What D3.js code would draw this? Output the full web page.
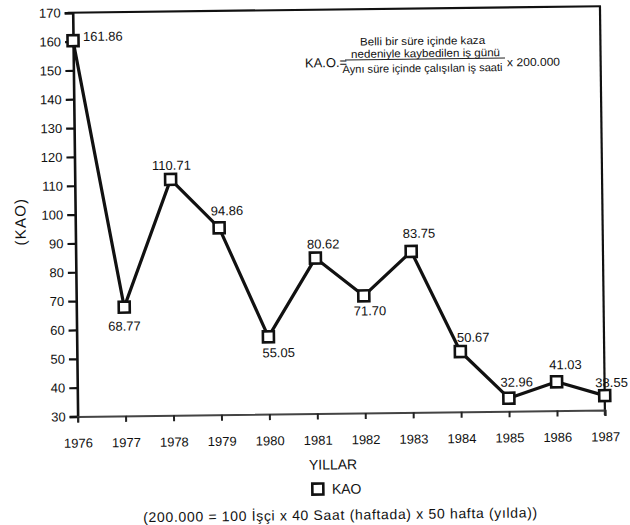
<!DOCTYPE html>
<html>
<head>
<meta charset="utf-8">
<script src="https://cdn.jsdelivr.net/npm/d3@7"></script>
<style>
  html, body { margin: 0; padding: 0; background: #fff; }
  svg { display: block; }
  text { font-family: "Liberation Sans", Arial, Helvetica, sans-serif; fill: #111; }
</style>
</head>
<body>
<svg id="chart" width="630" height="525"></svg>
<script>
// ---- data ----
const years = [1976, 1977, 1978, 1979, 1980, 1981, 1982, 1983, 1984, 1985, 1986, 1987];
const kaoPlotted = [160.3, 67.7, 111.8, 94.8, 56.8, 83.9, 70.6, 85.8, 50.9, 34.5, 40.0, 35.0];
const kaoLabels = ["161.86", "68.77", "110.71", "94.86", "55.05", "80.62", "71.70", "83.75", "50.67", "32.96", "41.03", "38.55"];
const yTicks = [30, 40, 50, 60, 70, 80, 90, 100, 110, 120, 130, 140, 150, 160, 170];
const xTickLabels = ["1976", "1977", "1978", "1979", "1980", "1981", "1982", "1983", "1984", "1985", "1986", "1987"];
const seriesName = "KAO";
const yTitle = "(KAO)";
const xTitle = "YILLAR";
const formulaNumerator = ["Belli bir süre içinde kaza", "nedeniyle kaybedilen iş günü"];
const formulaDenominator = "Aynı süre içinde çalışılan iş saati";
const formulaLeft = "KA.O.=";
const formulaRight = "x 200.000";
const footnote = "(200.000 = 100 İşçi x 40 Saat (haftada) x 50 hafta (yılda))";

// label placement (dx, dy, anchor) relative to each point
const labelPlacement = [
  [10, -4, "start"], [0, 19, "middle"], [1, -14, "middle"], [8, -17, "middle"],
  [10, 16, "middle"], [8, -14, "middle"], [6, 15, "middle"], [8, -18, "middle"],
  [13, -14, "middle"], [8, -16, "middle"], [9, -17, "middle"], [7, -13, "middle"]
];

// ---- layout ----
const pLeft = 72.7, pTop = 12.7, pRight = 600, pBottom = 416.5;
const svg = d3.select("#chart");
const g = svg.append("g").attr("transform", "rotate(-0.7," + pLeft + "," + pTop + ")");

const x = d3.scaleLinear().domain([1976, 1987]).range([pLeft, pRight]);
const y = d3.scaleLinear().domain([30, 170]).range([pBottom, pTop]);

// frame: top and right borders
g.append("line").attr("x1", pLeft - 5).attr("x2", pRight + 1).attr("y1", pTop).attr("y2", pTop)
  .attr("stroke", "#111").attr("stroke-width", 2.2);
g.append("line").attr("x1", pRight).attr("x2", pRight).attr("y1", pTop).attr("y2", pBottom + 5)
  .attr("stroke", "#111").attr("stroke-width", 2.2);

// y axis
const yAxis = d3.axisLeft(y).tickValues(yTicks).tickSize(8).tickPadding(4).tickFormat(d3.format("d"));
const ya = g.append("g").attr("transform", "translate(" + pLeft + ",0)").call(yAxis);
ya.select(".domain").attr("stroke", "#111").attr("stroke-width", 2.6);
ya.selectAll(".tick line").attr("stroke", "#111").attr("stroke-width", 2.2);
ya.selectAll(".tick text").attr("font-size", 13).attr("fill", "#111");

// x axis
const xAxis = d3.axisBottom(x).tickValues(years).tickSize(6).tickPadding(16)
  .tickFormat((d, i) => xTickLabels[i]);
const xa = g.append("g").attr("transform", "translate(0," + pBottom + ")").call(xAxis);
xa.select(".domain").attr("stroke", "#444").attr("stroke-width", 2);
xa.selectAll(".tick line").attr("stroke", "#222").attr("stroke-width", 2);
xa.selectAll(".tick text").attr("font-size", 13).attr("fill", "#111");

// line
const pts = years.map((yr, i) => ({ yr, v: kaoPlotted[i], lab: kaoLabels[i], p: labelPlacement[i] }));
g.append("path").datum(pts)
  .attr("d", d3.line().x(d => x(d.yr)).y(d => y(d.v)))
  .attr("fill", "none").attr("stroke", "#111").attr("stroke-width", 3.2).attr("stroke-linejoin", "round");

// markers
const ms = 11;
g.selectAll("rect.mk").data(pts).enter().append("rect").attr("class", "mk")
  .attr("x", d => x(d.yr) - ms / 2).attr("y", d => y(d.v) - ms / 2)
  .attr("width", ms).attr("height", ms)
  .attr("fill", "#fff").attr("stroke", "#111").attr("stroke-width", 2.6);

// value labels
g.selectAll("text.vl").data(pts).enter().append("text").attr("class", "vl")
  .attr("x", d => x(d.yr) + d.p[0]).attr("y", d => y(d.v) + d.p[1])
  .attr("text-anchor", d => d.p[2]).attr("dominant-baseline", "central")
  .attr("font-size", 13).text(d => d.lab);

// y title
g.append("text").attr("transform", "translate(17.5,221) rotate(-90)")
  .attr("text-anchor", "middle").attr("dominant-baseline", "central")
  .attr("font-size", 15).attr("letter-spacing", 1.2).text(yTitle);

// x title
g.append("text").attr("x", 327.5).attr("y", 467.5).attr("text-anchor", "middle")
  .attr("dominant-baseline", "central").attr("font-size", 14).text(xTitle);

// legend
g.append("rect").attr("x", 306.5).attr("y", 486.5).attr("width", 11).attr("height", 11)
  .attr("fill", "#fff").attr("stroke", "#111").attr("stroke-width", 2.6);
g.append("text").attr("x", 326).attr("y", 492).attr("dominant-baseline", "central")
  .attr("font-size", 14).text(seriesName);

// footnote
g.append("text").attr("x", 334).attr("y", 518).attr("text-anchor", "middle")
  .attr("dominant-baseline", "central").attr("font-size", 14)
  .attr("textLength", 394).attr("lengthAdjust", "spacing").text(footnote);

// formula
const fsz = 11;
g.append("text").attr("x", 422.2).attr("y", 45).attr("text-anchor", "middle")
  .attr("dominant-baseline", "central").attr("font-size", fsz)
  .attr("textLength", 125).attr("lengthAdjust", "spacingAndGlyphs").text(formulaNumerator[0]);
g.append("text").attr("x", 425).attr("y", 57.3).attr("text-anchor", "middle")
  .attr("dominant-baseline", "central").attr("font-size", fsz)
  .attr("textLength", 149).attr("lengthAdjust", "spacingAndGlyphs").text(formulaNumerator[1]);
g.append("line").attr("x1", 344.4).attr("x2", 504.4).attr("y1", 63.3).attr("y2", 63.3)
  .attr("stroke", "#222").attr("stroke-width", 1);
g.append("text").attr("x", 421.8).attr("y", 72.3).attr("text-anchor", "middle")
  .attr("dominant-baseline", "central").attr("font-size", fsz)
  .attr("textLength", 160).attr("lengthAdjust", "spacingAndGlyphs").text(formulaDenominator);
g.append("text").attr("x", 325.4).attr("y", 65.8).attr("text-anchor", "middle")
  .attr("dominant-baseline", "central").attr("font-size", 13)
  .attr("textLength", 42).attr("lengthAdjust", "spacingAndGlyphs").text(formulaLeft);
g.append("text").attr("x", 532.9).attr("y", 67.6).attr("text-anchor", "middle")
  .attr("dominant-baseline", "central").attr("font-size", 11.5)
  .attr("textLength", 53).attr("lengthAdjust", "spacingAndGlyphs").text(formulaRight);
</script>
</body>
</html>
